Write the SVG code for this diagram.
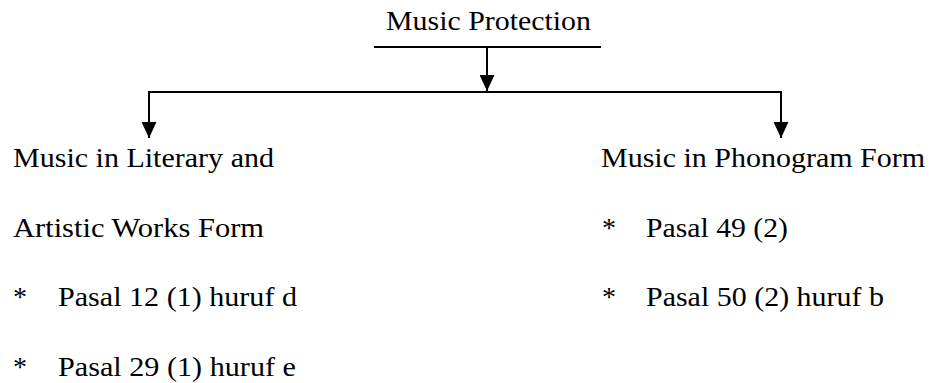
<svg xmlns="http://www.w3.org/2000/svg" width="930" height="383" viewBox="0 0 930 383">
  <style>
    text { font-family: "Liberation Serif", "Times New Roman", serif; font-size: 28px; fill: #000; }
    .ln { stroke: #000; stroke-width: 2; fill: none; }
  </style>
  <defs>
    <marker id="arr" markerUnits="userSpaceOnUse" markerWidth="16" markerHeight="15" viewBox="0 0 16 15" refX="16" refY="7.5" orient="auto">
      <path d="M0 0 L16 7.5 L0 15 Z" fill="#000"/>
    </marker>
  </defs>
  <rect width="930" height="383" fill="#fff"/>

  <g id="root">
    <text x="386" y="30" textLength="205" lengthAdjust="spacingAndGlyphs">Music Protection</text>
  </g>

  <g id="connectors">
    <line class="ln" x1="374" y1="47" x2="601" y2="47"/>
    <line class="ln" x1="487" y1="47" x2="487" y2="91" marker-end="url(#arr)"/>
    <line class="ln" x1="148" y1="92" x2="782" y2="92"/>
    <line class="ln" x1="149" y1="92" x2="149" y2="138" marker-end="url(#arr)"/>
    <line class="ln" x1="781" y1="92" x2="781" y2="138" marker-end="url(#arr)"/>
  </g>

  <g id="literary">
    <text x="13" y="167" textLength="261" lengthAdjust="spacingAndGlyphs">Music in Literary and</text>
    <text x="13" y="237" textLength="251" lengthAdjust="spacingAndGlyphs">Artistic Works Form</text>
    <text x="13" y="306">*</text>
    <text x="58" y="306" textLength="239" lengthAdjust="spacingAndGlyphs">Pasal 12 (1) huruf d</text>
    <text x="13" y="376">*</text>
    <text x="58" y="376" textLength="238" lengthAdjust="spacingAndGlyphs">Pasal 29 (1) huruf e</text>
  </g>

  <g id="phonogram">
    <text x="601" y="167" textLength="324" lengthAdjust="spacingAndGlyphs">Music in Phonogram Form</text>
    <text x="602" y="237">*</text>
    <text x="646" y="237" textLength="142" lengthAdjust="spacingAndGlyphs">Pasal 49 (2)</text>
    <text x="602" y="306">*</text>
    <text x="646" y="306" textLength="238" lengthAdjust="spacingAndGlyphs">Pasal 50 (2) huruf b</text>
  </g>
</svg>
